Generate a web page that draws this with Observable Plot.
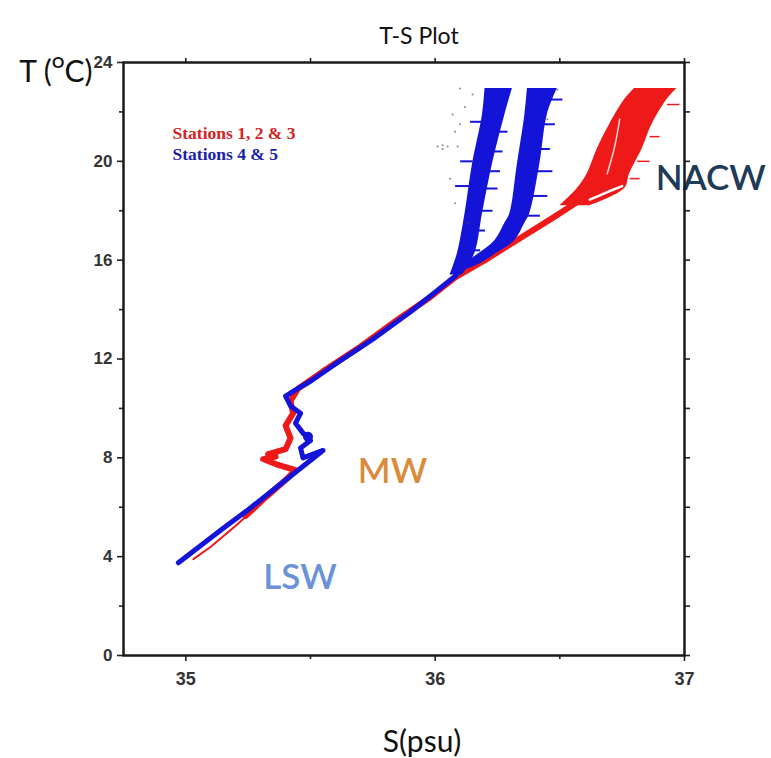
<!DOCTYPE html>
<html><head><meta charset="utf-8">
<script src="https://cdn.jsdelivr.net/npm/d3@7"></script>
<script src="https://cdn.jsdelivr.net/npm/@observablehq/plot@0.6"></script>
<style>body{margin:0;background:#fff} svg{display:block}</style>
</head><body><div id="chart"></div>
<script>
// ---- axis ticks ----
const S_TICKS = [35, 36, 37];
const S_MINOR = [35.5, 36.5];
const T_TICKS = [0, 4, 8, 12, 16, 20, 24];
const T_MINOR = [2, 6, 10, 14, 18, 22];

// ---- texts ----
const TITLE = "T-S Plot";
const X_LABEL = "S(psu)";
const Y_LABEL = "T (ᴼC)";
const LEGEND = ["Stations 1, 2 & 3", "Stations 4 & 5"];
const MASS_NAMES = ["NACW", "MW", "LSW"];
const MASS_S = [36.885, 35.69, 35.31];
const MASS_T = [19.3, 7.45, 3.15];

// ---- Stations 4 & 5 (blue): [S, T] ----
const blueTrunk = [[34.97,3.75],[35.06,4.45],[35.15,5.15],[35.25,5.9],[35.35,6.7],[35.45,7.5],[35.55,8.3],
  [35.47,8.0],[35.46,8.4],[35.5,8.7],[35.47,9.0],[35.44,9.4],[35.46,9.8],[35.42,10.1],[35.40,10.5],
  [35.44,10.75],[35.5,11.1],[35.6,11.8],[35.75,12.8],[35.9,13.9],[36.0,14.7],[36.08,15.35],[36.1,15.6]];
// band edges [T, S left, S right]
const blueBandA = [[15.4,36.06,36.11],[16.3,36.09,36.16],[17.9,36.12,36.19],[19.9,36.15,36.23],[21.9,36.19,36.28],[22.95,36.2,36.31]];
const blueBandB = [[15.6,36.08,36.12],[15.8,36.11,36.17],[16.3,36.18,36.25],[16.8,36.24,36.32],[17.5,36.28,36.36],
  [17.9,36.30,36.38],[19.9,36.33,36.42],[21.9,36.36,36.45],[22.95,36.37,36.49]];
// spikes [T, S1, S2]
const blueSpikes = [[21.2,36.24,36.29],[20.4,36.22,36.27],[19.6,36.2,36.26],[18.9,36.19,36.25],[18.0,36.17,36.23],
  [17.2,36.15,36.2],[16.4,36.13,36.18],[20.0,36.1,36.15],[19.0,36.08,36.14],[21.6,36.14,36.2],
  [22.5,36.45,36.51],[21.5,36.43,36.48],[20.5,36.42,36.46],[19.6,36.41,36.47],[18.6,36.39,36.45],[17.8,36.36,36.42]];
const blueClumps = [[35.49,8.85]];
const strayDots = [[36.05,20.6],[36.09,20.6],[36.08,21.2],[36.07,21.9],[36.03,20.5],[36.15,22.7],[36.08,18.3],
  [36.13,17.5],[36.01,20.6],[36.03,20.65],[36.1,22.95],[36.12,22.2],[36.45,21.7],[36.49,22.9],[36.06,19.3],[36.1,21.5]];

// ---- Stations 1, 2 & 3 (red): [S, T] ----
const redLower = [[35.03,3.9],[35.1,4.4],[35.2,5.25],[35.26,5.8]];
const redTrunk = [[35.24,5.65],[35.32,6.4],[35.40,7.1],[35.44,7.5],[35.36,7.75],[35.31,7.95],
  [35.36,8.05],[35.33,8.15],[35.40,8.35],[35.42,8.8],[35.40,9.3],[35.43,9.8],[35.42,10.3],[35.45,10.8],[35.55,11.5],
  [35.7,12.5],[35.85,13.6],[35.98,14.5],[36.08,15.3],[36.2,16.0],[36.35,16.95],[36.47,17.7],[36.57,18.35]];
const redBlob = [[18.2,36.5,36.62],[18.9,36.57,36.76],[19.5,36.61,36.78],[20.5,36.65,36.83],[21.5,36.70,36.87],
  [22.5,36.76,36.93],[22.95,36.80,36.97]];
const redGapA = [[36.62,18.45],[36.69,18.75],[36.75,19.0]];
const redGapB = [[36.69,19.5],[36.72,20.6],[36.74,21.7]];
const redSpikes = [[22.3,36.93,36.98],[21.0,36.86,36.9],[20.0,36.81,36.86],[19.3,36.78,36.82]];

const BLUE = "#1414d8", RED = "#ee1a1a";
const S = d => d[0], T = d => d[1];
const axisStyle = {color: "#222", strokeWidth: 1.6, label: null, tickFormat: () => ""};
const tickFont = {fontFamily: "Liberation Sans, Arial, sans-serif", fontWeight: "bold", fill: "#333"};

const plot = Plot.plot({
  width: 771, height: 758,
  marginTop: 62, marginBottom: 103, marginLeft: 123, marginRight: 87,
  x: {domain: [34.75, 37]},
  y: {domain: [0, 24]},
  style: {fontFamily: "Liberation Sans, Arial, sans-serif", background: "#fff"},
  marks: [
    // red stations
    Plot.line(redLower, {x: S, y: T, stroke: RED, strokeWidth: 2}),
    Plot.line(redTrunk, {x: S, y: T, stroke: RED, strokeWidth: 6, strokeLinejoin: "round"}),
    Plot.areaX(redBlob, {y: d => d[0], x1: d => d[1], x2: d => d[2], fill: RED, curve: "catmull-rom"}),
    Plot.line(redGapA, {x: S, y: T, stroke: "#fff", strokeWidth: 2.5, curve: "catmull-rom"}),
    Plot.line(redGapB, {x: S, y: T, stroke: "#fff", strokeWidth: 1.5, strokeOpacity: 0.8, curve: "catmull-rom"}),
    Plot.link(redSpikes, {x1: d => d[1], x2: d => d[2], y1: d => d[0], y2: d => d[0], stroke: RED, strokeWidth: 1.5}),
    // blue stations
    Plot.areaX(blueBandA, {y: d => d[0], x1: d => d[1], x2: d => d[2], fill: BLUE, curve: "catmull-rom"}),
    Plot.areaX(blueBandB, {y: d => d[0], x1: d => d[1], x2: d => d[2], fill: BLUE, curve: "catmull-rom"}),
    Plot.line(blueTrunk, {x: S, y: T, stroke: BLUE, strokeWidth: 5, strokeLinejoin: "round"}),
    Plot.link(blueSpikes, {x1: d => d[1], x2: d => d[2], y1: d => d[0], y2: d => d[0], stroke: BLUE, strokeWidth: 2}),
    Plot.dot(blueClumps, {x: S, y: T, r: 5, fill: BLUE}),
    Plot.dot(strayDots, {x: S, y: T, r: 1, fill: "#555", fillOpacity: 0.7}),
    // water mass labels
    Plot.text(MASS_NAMES, {x: (d, i) => MASS_S[i], y: (d, i) => MASS_T[i], text: d => d, textAnchor: "start",
      fill: ["#1f3b57", "#d98b3b", "#6b92d8"], fontSize: 35, fontWeight: 600, fontFamily: "Lato, sans-serif"}),
    // legend
    Plot.text([LEGEND[0]], {frameAnchor: "top-left", dx: 49, dy: 64, textAnchor: "start", fill: "#d42222",
      fontSize: 17.5, fontWeight: "bold", fontFamily: "Liberation Serif, serif"}),
    Plot.text([LEGEND[1]], {frameAnchor: "top-left", dx: 49, dy: 85, textAnchor: "start", fill: "#1a22a8",
      fontSize: 17.5, fontWeight: "bold", fontFamily: "Liberation Serif, serif"}),
    // axes ticks
    Plot.axisX({...axisStyle, ticks: S_TICKS, tickSize: 6}),
    Plot.axisX({...axisStyle, ticks: S_MINOR, tickSize: 4}),
    Plot.axisX({...axisStyle, anchor: "top", ticks: S_TICKS.concat(S_MINOR), tickSize: 5}),
    Plot.axisY({...axisStyle, ticks: T_TICKS, tickSize: 6}),
    Plot.axisY({...axisStyle, ticks: T_MINOR, tickSize: 4}),
    Plot.axisY({...axisStyle, anchor: "right", ticks: T_TICKS.concat(T_MINOR), tickSize: 5}),
    // tick labels
    Plot.text(S_TICKS, {x: d => d, frameAnchor: "bottom", dy: 24, lineAnchor: "middle", text: d => String(d), fontSize: 18, ...tickFont}),
    Plot.text(T_TICKS, {y: d => d, frameAnchor: "left", dx: -11, textAnchor: "end", lineAnchor: "middle", text: d => String(d), fontSize: 17, ...tickFont}),
    Plot.frame({stroke: "#1a1a1a", strokeWidth: 2.5}),
    // titles
    Plot.text([TITLE], {frameAnchor: "top", dx: 15, dy: -26, lineAnchor: "middle", fontSize: 23, fontFamily: "Lato, sans-serif", fill: "#111"}),
    Plot.text([X_LABEL], {frameAnchor: "bottom", dx: 18, dy: 87, lineAnchor: "middle", fontSize: 30, fontFamily: "Lato, sans-serif", fill: "#111"}),
    Plot.text([Y_LABEL], {frameAnchor: "top-left", dx: -31, dy: 10, textAnchor: "end", lineAnchor: "middle", fontSize: 30, fontFamily: "Lato, sans-serif", fill: "#111"})
  ]
});
document.getElementById("chart").append(plot);
</script></body></html>
